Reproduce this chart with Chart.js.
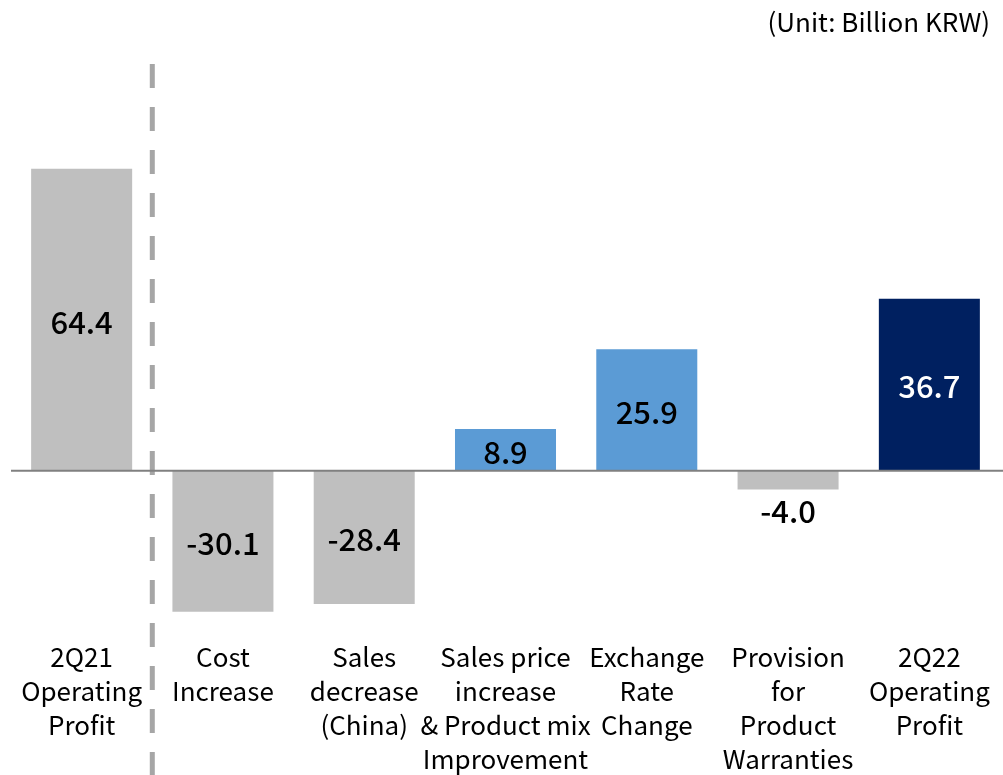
<!DOCTYPE html>
<html>
<head>
<meta charset="utf-8">
<script src="https://cdn.jsdelivr.net/npm/chart.js@4.4.1/dist/chart.umd.min.js"></script>
<style>
html,body{margin:0;padding:0;background:#fff;}
#wrap{width:1003px;height:775px;position:relative;}
</style>
</head>
<body>
<div id="wrap"><canvas id="c" width="1003" height="775"></canvas></div>
<script>
const categories = [
  ["2Q21","Operating","Profit"],
  ["Cost","Increase"],
  ["Sales","decrease","(China)"],
  ["Sales price","increase","& Product mix","Improvement"],
  ["Exchange","Rate","Change"],
  ["Provision","for","Product","Warranties"],
  ["2Q22","Operating","Profit"]
];
const values = [64.4, -30.1, -28.4, 8.9, 25.9, -4.0, 36.7];
const barColors = ["#BFBFBF","#BFBFBF","#BFBFBF","#5B9BD5","#5B9BD5","#BFBFBF","#002060"];
const labelColors = ["#000","#000","#000","#000","#000","#000","#fff"];
const unitText = "(Unit: Billion KRW)";
const FONT = "'Noto Sans CJK KR', 'Noto Sans', sans-serif";

const extras = {
  id: 'extras',
  beforeDatasetsDraw(chart) {
    const ctx = chart.ctx;
    const x = chart.scales.x;
    // dashed separator
    const sx = (x.getPixelForValue(0) + x.getPixelForValue(1)) / 2;
    ctx.save();
    ctx.strokeStyle = '#A6A6A6';
    ctx.lineWidth = 5;
    ctx.setLineDash([24, 19]);
    ctx.beginPath();
    ctx.moveTo(sx, 64);
    ctx.lineTo(sx, chart.height);
    ctx.stroke();
    ctx.restore();
    // unit text
    ctx.save();
    ctx.font = "26px " + FONT;
    ctx.fillStyle = '#000';
    ctx.textAlign = 'right';
    ctx.textBaseline = 'middle';
    ctx.fillText(unitText, 990, 22);
    ctx.restore();
  },
  afterDatasetsDraw(chart) {
    const ctx = chart.ctx;
    const y = chart.scales.y;
    const y0 = y.getPixelForValue(0);
    ctx.save();
    ctx.strokeStyle = '#808080';
    ctx.lineWidth = 2;
    ctx.beginPath();
    ctx.moveTo(11, y0);
    ctx.lineTo(chart.width, y0);
    ctx.stroke();
    // value labels
    const meta = chart.getDatasetMeta(0);
    ctx.font = "500 31px " + FONT;
    ctx.textAlign = 'center';
    ctx.textBaseline = 'middle';
    meta.data.forEach((bar, i) => {
      const v = values[i];
      let ty;
      if (Math.abs(v) < 6) {
        ty = bar.y + (v < 0 ? 22 : -22);
      } else {
        ty = (bar.y + bar.base) / 2 + 2;
      }
      ctx.fillStyle = labelColors[i];
      ctx.fillText(v.toFixed(1), bar.x, ty);
    });
    ctx.restore();
  }
};

new Chart(document.getElementById('c'), {
  type: 'bar',
  data: {
    labels: categories,
    datasets: [{
      data: values,
      backgroundColor: barColors,
      borderWidth: 0,
      categoryPercentage: 1,
      barPercentage: 0.715
    }]
  },
  options: {
    responsive: false,
    animation: false,
    layout: { padding: { left: 11, right: 3, top: 83, bottom: -5 } },
    plugins: {
      legend: { display: false },
      tooltip: { enabled: false },
      title: { display: false }
    },
    scales: {
      x: {
        grid: { display: false, drawTicks: false },
        border: { display: false },
        ticks: {
          color: '#000',
          font: { family: FONT, size: 26, lineHeight: 1.31 },
          padding: 4,
          maxRotation: 0,
          autoSkip: false
        }
      },
      y: {
        display: false,
        min: -35.2,
        max: 82.7
      }
    }
  },
  plugins: [extras]
});
</script>
</body>
</html>
